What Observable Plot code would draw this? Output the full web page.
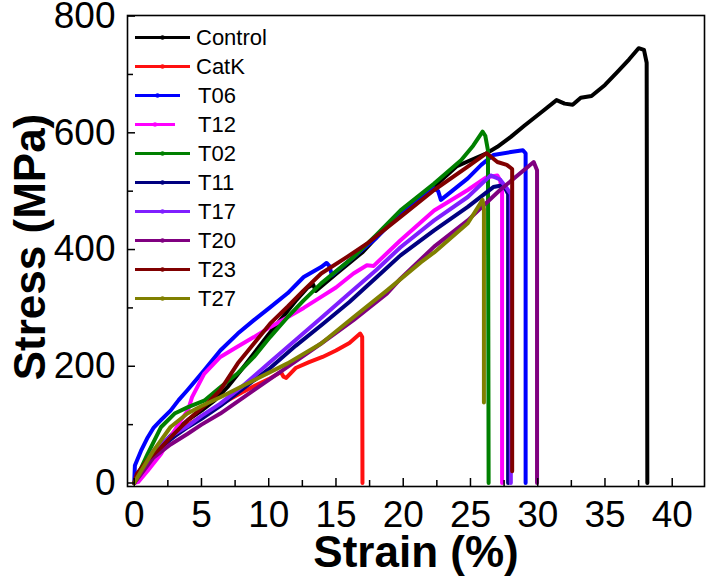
<!DOCTYPE html>
<html><head><meta charset="utf-8">
<script src="https://cdn.jsdelivr.net/npm/d3@7"></script>
<script src="https://cdn.jsdelivr.net/npm/@observablehq/plot@0.6"></script>
<style>
body{margin:0;background:#fff;}
#wrap{position:relative;width:709px;height:583px;font-family:"Liberation Sans",Arial,sans-serif;}
#legend{position:absolute;left:135px;top:23px;}
.row{display:flex;align-items:center;height:29px;}
.row span{font-size:22px;color:#000;line-height:29px;position:absolute;left:61px;}
.row{position:relative;}
.axlabel{position:absolute;font-weight:bold;font-size:44px;text-align:center;color:#000;white-space:nowrap;}
#ylab{width:320px;height:44px;line-height:44px;left:-130px;top:225px;transform:rotate(-90deg);transform-origin:center center;}
#xlab{width:400px;height:30px;line-height:30px;left:216px;top:537px;}
</style></head><body><div id="wrap"></div>
<script>
// ---- data ----
const seriesNames = ["Control","CatK","T06","T12","T02","T11","T17","T20","T23","T27"];
const seriesColors = ["#000000","#ff1010","#0000ff","#ff00ff","#008000","#000080","#7f1fff","#800080","#800000","#808000"];
const xMajor = [0,5,10,15,20,25,30,35,40];
const xMinor = [2.5,7.5,12.5,17.5,22.5,27.5,32.5,37.5];
const yMajor = [0,200,400,600,800];
const yMinor = [100,300,500,700];
const xLabel = "Strain (%)";
const yLabel = "Stress (MPa)";

// [strain %, stress MPa]
const control = [[0,0],[0.5,20],[1,38],[2,65],[3,88],[4,108],[5,124],[6,142],[7,166],[8,195],[9,225],[10,255],[11,283],[12,312],[12.9,335],[13.3,340],[13.5,329],[15,358],[17,396],[19.8,465],[21,488],[22.5,512],[24,543],[25,553],[26.2,565],[27,576],[28,593],[29,612],[30.2,634],[31.4,656],[32,650],[32.6,648],[33.2,660],[34,663],[35,682],[36,706],[36.8,726],[37.5,745],[37.9,742],[38.1,720],[38.15,0]];
const catK = [[0,0],[0.5,18],[1,35],[2,62],[3,84],[4,100],[5,114],[6,128],[7,142],[8,155],[9,167],[10,178],[10.9,190],[11.1,182],[11.3,180],[12,197],[13,207],[14,216],[15,227],[16,240],[16.8,256],[16.95,250],[16.97,0]];
const t06 = [[0,0],[0.05,30],[0.5,55],[1,78],[1.45,95],[2,108],[2.7,124],[3.3,142],[3.95,159],[5.2,193],[6.4,227],[7.7,256],[8.9,279],[10.1,301],[11.4,325],[12.6,353],[13.9,370],[14.3,377],[14.5,372],[14.7,356],[16.3,387],[18,420],[19.8,462],[21.3,490],[22.3,505],[22.6,500],[22.8,485],[23.5,498],[24.8,522],[25.8,545],[26.7,562],[28,567],[28.9,570],[29.1,565],[29.1,0]];
const t12 = [[0,0],[0.3,2],[1,21],[2,50],[2.7,79],[3.5,108],[4,125],[4.3,147],[5.2,187],[6.4,216],[7.7,234],[8.9,250],[10.1,267],[11.4,284],[12.6,300],[13.9,319],[15,335],[16.3,359],[17.3,373],[17.8,372],[19.8,416],[22.3,467],[24.8,502],[26.2,524],[27,527],[27.2,519],[27.35,500],[27.35,0]];
const t02 = [[0,0],[0.5,25],[1,50],[2,96],[3,119],[4,130],[5.2,141],[6.4,164],[7.7,188],[8.9,216],[10.1,250],[11.4,284],[12.6,313],[13.9,342],[16.3,387],[18,425],[19.8,467],[22.3,513],[24.3,553],[25.2,578],[25.9,602],[26.1,595],[26.3,570],[26.35,0]];
const t11 = [[0,0],[0.5,18],[1,35],[2,62],[3,80],[4,96],[5,110],[6.4,132],[8,160],[10,195],[12,235],[14,272],[16,310],[18,352],[19.8,390],[22.3,433],[24.8,473],[26.7,507],[27.4,510],[27.6,504],[27.8,495],[27.8,0]];
const t17 = [[0,0],[0.5,20],[1,38],[1.45,56],[2.7,80],[3.95,97],[5,115],[6.4,136],[8,165],[10,205],[12,245],[14,285],[16,325],[18,365],[19.8,404],[22.3,450],[24.8,490],[26.5,527],[27.2,520],[27.7,505],[28,495],[28,0]];
const t20 = [[0,0],[0.5,15],[1.45,44],[2.7,66],[3.95,84],[5,100],[6.4,119],[8.9,159],[11.4,199],[13.9,239],[16.3,279],[18.8,325],[19.8,350],[22.3,405],[24.8,450],[27.2,502],[29.7,550],[29.95,536],[29.95,0]];
const t23 = [[0,0],[0.2,16],[1,40],[2,61],[3,85],[3.95,107],[5.4,136],[6.4,159],[7.7,205],[8.9,239],[10.1,273],[11.4,302],[12.6,330],[13.9,359],[15.8,387],[17.3,410],[19.8,456],[22.3,502],[24.8,542],[26.2,565],[27,550],[27.7,545],[28.1,538],[28.1,20]];
const t27 = [[0,0],[0.5,20],[1.45,56],[2.7,96],[3.95,119],[5,132],[6.4,147],[8.9,176],[11.4,205],[13.9,239],[16.3,284],[18.8,330],[21.3,378],[22.3,395],[24.8,445],[25.9,485],[26,470],[26,138]];
const seriesData = [control,catK,t06,t12,t02,t11,t17,t20,t23,t27];
// legend sample line lengths (px) and label offsets as in the original legend
const legendLineLen = [55,55,45,40,55,55,55,55,55,55];
const legendLabelDx = [0,0,2,2,2,2,2,2,2,2];

// ---- build table ----
const table = [];
seriesData.forEach((pts,i)=>pts.forEach(([s,v])=>table.push({series:seriesNames[i],strain:s,stress:v})));

const W=709,H=583,mL=127,mR=5,mT=15,mB=97;
const frameW=W-mL-mR, frameH=H-mT-mB;
const font='"Liberation Sans", Arial, sans-serif';

const chart = Plot.plot({
  width:W,height:H,marginLeft:mL,marginRight:mR,marginTop:mT,marginBottom:mB,
  style:{fontFamily:font,background:"white",color:"black"},
  x:{domain:[-0.5,42.4]},
  y:{domain:[-6,801]},
  color:{domain:seriesNames,range:seriesColors},
  marks:[
    Plot.line(table,{x:"strain",y:"stress",z:"series",stroke:"series",strokeWidth:4,strokeLinejoin:"round",strokeLinecap:"round"}),
    Plot.tickX(xMajor,{x:d=>d,insetTop:frameH-8,stroke:"black",strokeWidth:1.5}),
    Plot.tickX(xMinor,{x:d=>d,insetTop:frameH-6,stroke:"black",strokeWidth:1.5}),
    Plot.tickY(yMajor,{y:d=>d,insetRight:frameW-8,stroke:"black",strokeWidth:1.5}),
    Plot.tickY(yMinor,{y:d=>d,insetRight:frameW-6,stroke:"black",strokeWidth:1.5}),
    Plot.axisX({ticks:xMajor,tickSize:0,tickPadding:14,fontSize:37,label:null}),
    Plot.axisY({ticks:yMajor,tickSize:0,tickPadding:12,fontSize:37,label:null}),
    Plot.frame({stroke:"black",strokeWidth:1.6})
  ]
});

const wrap=document.getElementById("wrap");
wrap.appendChild(chart);

// axis titles
d3.select(wrap).append("div").attr("class","axlabel").attr("id","ylab").text(yLabel);
d3.select(wrap).append("div").attr("class","axlabel").attr("id","xlab").text(xLabel);

// legend overlay
const legend=d3.select(wrap).append("div").attr("id","legend");
seriesNames.forEach((name,i)=>{
  const row=legend.append("div").attr("class","row");
  const L=legendLineLen[i];
  const svg=row.append("svg").attr("width",55).attr("height",29);
  svg.append("line").attr("x1",0).attr("x2",L).attr("y1",14.5).attr("y2",14.5)
     .attr("stroke",seriesColors[i]).attr("stroke-width",3);
  svg.append("circle").attr("cx",L/2).attr("cy",14.5).attr("r",2.2).attr("fill",seriesColors[i]);
  row.append("span").style("left",(61+legendLabelDx[i])+"px").text(name);
});
</script></body></html>
